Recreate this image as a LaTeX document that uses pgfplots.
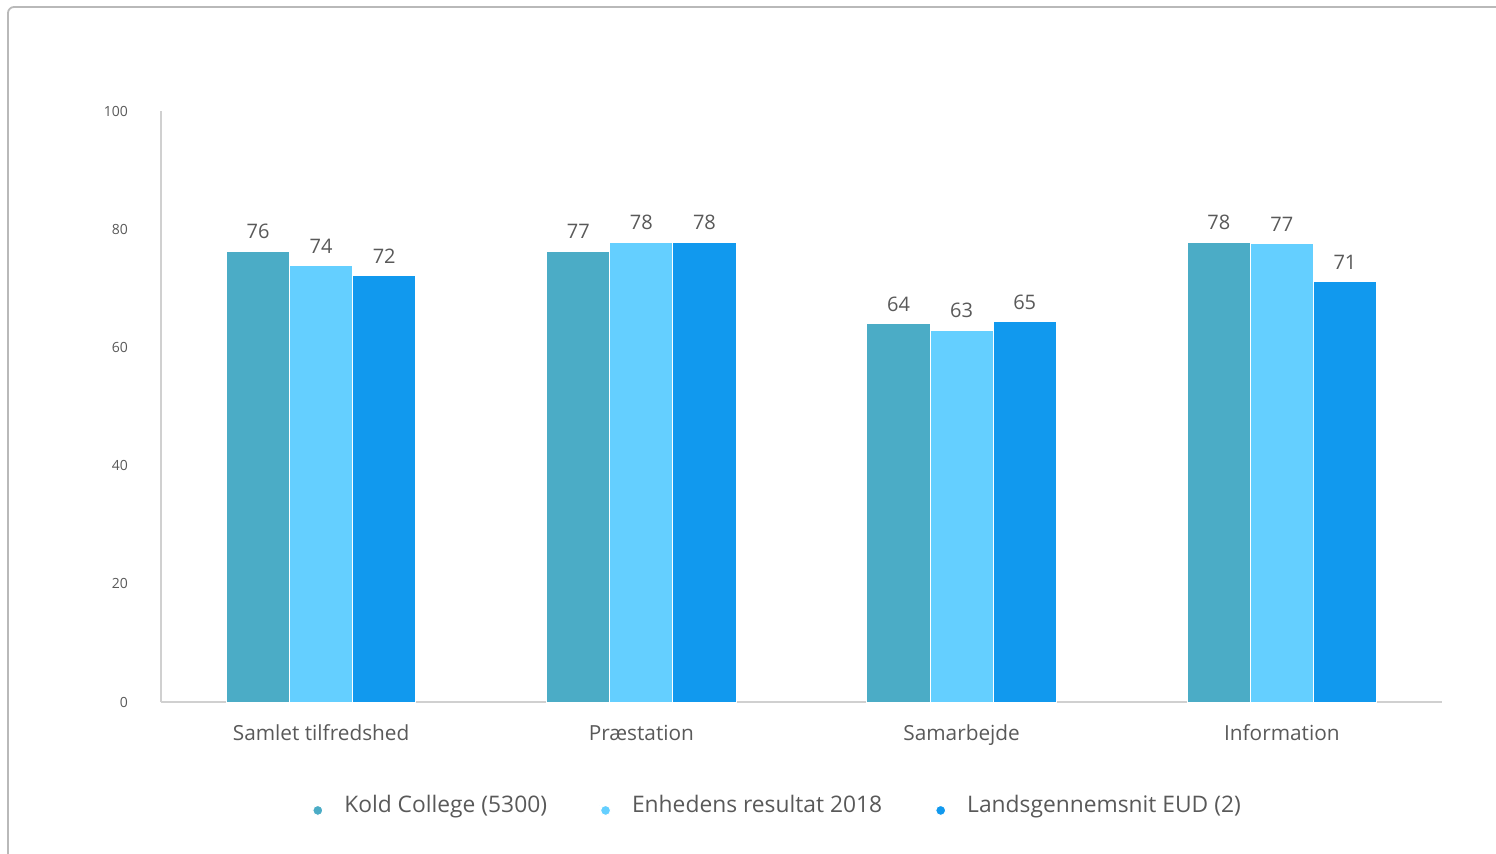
\documentclass[border=0pt]{standalone}
\usepackage{fontspec}
\setmainfont{Open Sans}
\usepackage{pgfplots}
\usepackage{pgfplotstable}
\pgfplotsset{compat=1.18}
\definecolor{cKold}{HTML}{4BACC6}
\definecolor{cEnh}{HTML}{64CFFF}
\definecolor{cLand}{HTML}{1199EE}
\definecolor{txt}{HTML}{595959}
\definecolor{axl}{HTML}{D0D0D0}

\pgfplotstableread{
x y lab
0 76.3 76
1 76.3 77
2 64.0 64
3 77.8 78
}\kold
\pgfplotstableread{
x y lab
0 73.9 74
1 77.8 78
2 62.9 63
3 77.5 77
}\enh
\pgfplotstableread{
x y lab
0 72.1 72
1 77.8 78
2 64.3 65
3 71.2 71
}\land

\begin{document}
\begin{tikzpicture}
\useasboundingbox (-80.5pt,-75.5pt) rectangle (667.5pt,351pt);
\draw[gray!55, line width=0.9pt, rounded corners=3pt] (-76.5pt,-120pt) rectangle (720pt,347.5pt);
\begin{axis}[
  at={(0,0)}, anchor=south west,
  scale only axis, width=640.5pt, height=295.5pt,
  xmin=-0.5, xmax=3.5, ymin=0, ymax=100,
  ybar=0pt, bar width=0.197,
  axis x line*=bottom, axis y line*=left,
  axis line style={axl, line width=0.9pt, -},
  xtick={0,1,2,3},
  xticklabels={Samlet tilfredshed, Præstation, Samarbejde, Information},
  ytick={0,20,40,60,80,100},
  major tick length=0pt,
  /pgf/number format/assume math mode=true,
  tick label style={text=txt},
  yticklabel style={font=\fontsize{7}{8}\selectfont, xshift=-13pt},
  xticklabel style={font=\fontsize{10.4}{12}\selectfont, yshift=-8pt},
  nodes near coords,
  point meta=explicit symbolic,
  every node near coord/.append style={font=\fontsize{10}{12}\selectfont, text=txt, yshift=2.5pt},
  legend columns=3,
  legend style={draw=none, fill=none, at={(0.4817,-0.175)}, anchor=center,
    font=\fontsize{11.4}{13}\selectfont, text=txt,
    /tikz/every even column/.append style={column sep=24pt}},
  legend image code/.code={\fill[#1] (0pt,-2.5pt) circle (2.5pt); \path (-3pt,0) -- (11pt,0);},
]
\addplot[fill=cKold, draw=white, line width=0.5pt] table[x=x, y=y, meta=lab] {\kold};
\addplot[fill=cEnh, draw=white, line width=0.5pt] table[x=x, y=y, meta=lab] {\enh};
\addplot[fill=cLand, draw=white, line width=0.5pt] table[x=x, y=y, meta=lab] {\land};
\legend{Kold College (5300), Enhedens resultat 2018, Landsgennemsnit EUD (2)}
\end{axis}
\end{tikzpicture}
\end{document}
